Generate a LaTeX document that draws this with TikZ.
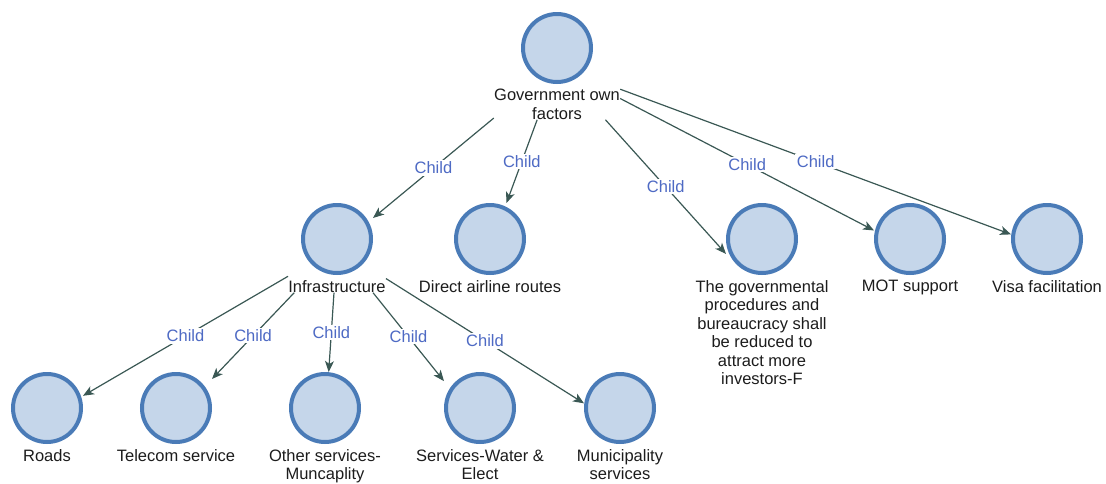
\documentclass[tikz,border=0pt]{standalone}
\usepackage{fontspec}
\setmainfont{Liberation Sans}
\usetikzlibrary{arrows.meta,fit}
\definecolor{discfill}{RGB}{197,214,234}
\definecolor{discline}{RGB}{74,123,183}
\definecolor{linkcol}{RGB}{58,88,84}
\definecolor{childcol}{RGB}{78,106,196}
\definecolor{textcol}{RGB}{28,28,28}

% one entity: disc, caption below it, and a frame fitted round both
\newcommand\mkentity[4]{%
  \node[disc] (#1-c) at (#2,#3) {};
  \node[lbl, yshift=-5pt] (#1-l) at (#1-c.south) {#4};
  \node[fit=(#1-c)(#1-l), inner sep=0pt] (#1) {};
  \coordinate (#1-nw) at (#1-c.west |- #1-c.north);
  \coordinate (#1-ne) at (#1-c.east |- #1-c.north);
  \coordinate (#1-sw) at (#1-c.west |- #1-c.south);
  \coordinate (#1-se) at (#1-c.east |- #1-c.south);
}
% parent -> child link, aimed centre to centre, ending on one side of the disc's square
\newcommand\childlink[4]{%
  \draw[link] (#1) -- (intersection of #1--#2 and #2-#3--#2-#4)
    node[childlbl] {Child};
}

\begin{document}
\begin{tikzpicture}[x=1pt,y=-1pt,
  disc/.style={circle, draw=discline, fill=discfill, line width=4pt,
    minimum size=68pt, inner sep=0pt},
  lbl/.style={anchor=north, inner sep=0pt, align=center, text=textcol,
    font=\fontsize{16.5}{18.5}\selectfont},
  link/.style={draw=linkcol, line width=1.2pt,
    -{Stealth[length=11pt,width=9pt,inset=3pt]}},
  childlbl/.style={midway, fill=white, inner sep=1.5pt, text=childcol,
    font=\fontsize{16.5}{18.5}\selectfont}]
\useasboundingbox (0,0) rectangle (1106,483);

\mkentity{gov}{557}{48}{Government own\\factors}
\mkentity{infra}{337}{239}{Infrastructure}
\mkentity{direct}{490}{239}{Direct airline routes}
\mkentity{proc}{762}{239}{The governmental\\procedures and\\bureaucracy shall\\be reduced to\\attract more\\investors-F}
\mkentity{mot}{910}{239}{MOT support}
\mkentity{visa}{1047}{239}{Visa facilitation}
\mkentity{roads}{47}{408}{Roads}
\mkentity{telecom}{176}{408}{Telecom service}
\mkentity{other}{325}{408}{Other services-\\Muncaplity}
\mkentity{water}{480}{408}{Services-Water \&\\Elect}
\mkentity{muni}{620}{408}{Municipality\\services}

\childlink{gov}{infra}{ne}{se}
\childlink{gov}{direct}{nw}{ne}
\childlink{gov}{proc}{nw}{sw}
\childlink{gov}{mot}{nw}{sw}
\childlink{gov}{visa}{nw}{sw}
\childlink{infra}{roads}{ne}{se}
\childlink{infra}{telecom}{ne}{se}
\childlink{infra}{other}{nw}{ne}
\childlink{infra}{water}{nw}{sw}
\childlink{infra}{muni}{nw}{sw}
\end{tikzpicture}
\end{document}
